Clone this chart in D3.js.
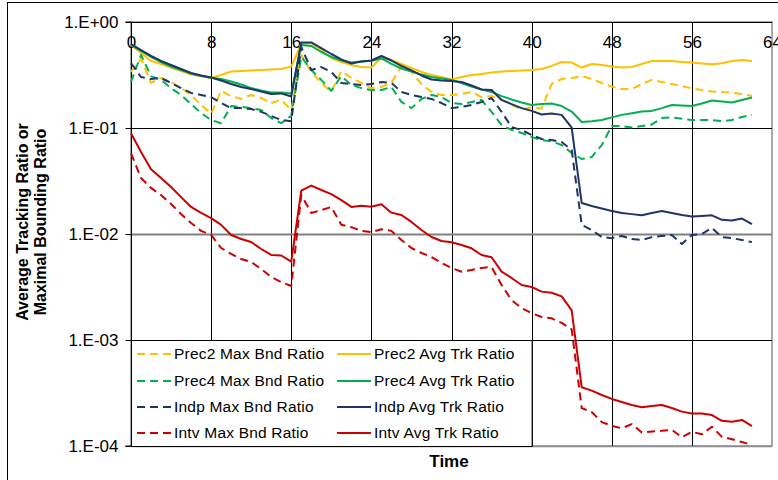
<!DOCTYPE html>
<html><head><meta charset="utf-8">
<script src="https://cdn.jsdelivr.net/npm/d3@7"></script>
<style>html,body{margin:0;padding:0;background:#fff;}svg{display:block;font-family:"Liberation Sans",Arial,sans-serif;}</style>
</head><body>
<svg id="chart" width="778" height="480"></svg>
<script>
const time = [0,1,2,3,4,5,6,7,8,9,10,11,12,13,14,15,16,17,18,19,20,21,22,23,24,25,26,27,28,29,30,31,32,33,34,35,36,37,38,39,40,41,42,43,44,45,46,47,48,49,50,51,52,53,54,55,56,57,58,59,60,61,62];
const xTicks = [0,8,16,24,32,40,48,56,64];
const yTicks = [1,0.1,0.01,0.001,0.0001];
const yTickLabels = ["1.E+00","1.E-01","1.E-02","1.E-03","1.E-04"];
const seriesNames = ["Prec2 Max Bnd Ratio","Prec2 Avg Trk Ratio","Prec4 Max Bnd Ratio","Prec4 Avg Trk Ratio","Indp Max Bnd Ratio","Indp Avg Trk Ratio","Intv Max Bnd Ratio","Intv Avg Trk Ratio"];

const prec2Max = [0.338,0.448,0.266,0.296,0.272,0.238,0.205,0.165,0.136,0.224,0.200,0.188,0.205,0.192,0.172,0.184,0.148,0.489,0.338,0.266,0.219,0.345,0.296,0.266,0.238,0.244,0.266,0.385,0.338,0.260,0.219,0.205,0.205,0.209,0.219,0.196,0.200,0.184,0.165,0.150,0.156,0.153,0.260,0.290,0.296,0.309,0.290,0.266,0.246,0.233,0.233,0.260,0.284,0.272,0.260,0.249,0.236,0.228,0.221,0.219,0.216,0.209,0.200];
const prec2Avg = [0.607,0.510,0.429,0.402,0.372,0.345,0.319,0.307,0.296,0.316,0.341,0.345,0.349,0.352,0.356,0.360,0.380,0.620,0.634,0.544,0.457,0.419,0.393,0.376,0.372,0.463,0.438,0.402,0.368,0.338,0.316,0.303,0.287,0.303,0.316,0.323,0.334,0.341,0.345,0.349,0.352,0.360,0.385,0.419,0.415,0.372,0.402,0.393,0.380,0.372,0.376,0.402,0.429,0.429,0.429,0.419,0.415,0.406,0.399,0.408,0.429,0.438,0.429];
const prec4Max = [0.272,0.489,0.309,0.284,0.238,0.205,0.168,0.138,0.119,0.111,0.161,0.158,0.154,0.148,0.124,0.111,0.130,0.468,0.352,0.284,0.224,0.309,0.255,0.238,0.228,0.228,0.244,0.176,0.154,0.188,0.205,0.196,0.172,0.168,0.176,0.184,0.142,0.107,0.0958,0.0897,0.0822,0.0771,0.0746,0.0691,0.0581,0.0510,0.0532,0.0691,0.1045,0.1045,0.101,0.1045,0.108,0.124,0.126,0.122,0.119,0.119,0.119,0.116,0.119,0.127,0.133];
const prec4Avg = [0.607,0.533,0.468,0.419,0.380,0.352,0.327,0.309,0.298,0.290,0.275,0.257,0.238,0.226,0.216,0.216,0.212,0.607,0.594,0.521,0.468,0.433,0.415,0.424,0.431,0.453,0.402,0.364,0.341,0.319,0.303,0.293,0.284,0.266,0.246,0.231,0.219,0.200,0.186,0.174,0.165,0.168,0.170,0.161,0.143,0.114,0.116,0.119,0.126,0.133,0.138,0.143,0.145,0.154,0.165,0.163,0.161,0.170,0.182,0.178,0.174,0.184,0.194];
const indpMax = [0.410,0.303,0.290,0.296,0.266,0.238,0.214,0.205,0.196,0.172,0.154,0.154,0.151,0.142,0.130,0.119,0.116,0.581,0.352,0.376,0.338,0.266,0.260,0.255,0.260,0.272,0.266,0.219,0.205,0.196,0.188,0.172,0.154,0.158,0.165,0.176,0.192,0.142,0.102,0.0957,0.0859,0.0788,0.0771,0.0738,0.0620,0.0122,0.0109,0.00935,0.00914,0.00957,0.00897,0.00878,0.00935,0.00957,0.00979,0.00805,0.00979,0.0100,0.0114,0.00935,0.00914,0.00878,0.00838];
const indpAvg = [0.620,0.544,0.478,0.429,0.393,0.360,0.330,0.313,0.300,0.281,0.260,0.244,0.233,0.221,0.209,0.212,0.198,0.641,0.641,0.568,0.499,0.443,0.406,0.424,0.433,0.478,0.433,0.385,0.349,0.313,0.287,0.281,0.278,0.272,0.252,0.231,0.228,0.184,0.168,0.154,0.145,0.134,0.137,0.133,0.101,0.0196,0.0184,0.0174,0.0165,0.0158,0.0154,0.0150,0.0158,0.0165,0.0158,0.0151,0.0146,0.0148,0.0150,0.0136,0.0134,0.0140,0.0124];
const intvMax = [0.0577,0.0338,0.0272,0.0233,0.0192,0.0154,0.0127,0.0107,0.00979,0.00738,0.00648,0.00581,0.00544,0.00468,0.00393,0.00352,0.00323,0.0233,0.0158,0.0168,0.0180,0.0122,0.0116,0.0107,0.0104,0.0111,0.0107,0.00878,0.00738,0.00662,0.00607,0.00532,0.00478,0.00441,0.00457,0.00478,0.00489,0.00330,0.00238,0.00200,0.00179,0.00165,0.00160,0.00145,0.00126,0.000228,0.000209,0.000168,0.000155,0.000147,0.000161,0.000134,0.000137,0.000139,0.000142,0.000121,0.000136,0.000129,0.000152,0.000122,0.000116,0.000109,0.000102];
const intvAvg = [0.0891,0.0594,0.0408,0.0338,0.0278,0.0223,0.0180,0.0158,0.0141,0.0122,0.00979,0.00897,0.00840,0.00722,0.00634,0.00627,0.00548,0.0256,0.0286,0.0260,0.0238,0.0209,0.0180,0.0185,0.0181,0.0191,0.0159,0.0151,0.0130,0.0109,0.00937,0.00859,0.00835,0.00787,0.00733,0.00634,0.00603,0.00441,0.00385,0.00330,0.00316,0.00286,0.00279,0.00258,0.00190,0.000358,0.000333,0.000303,0.000278,0.000260,0.000244,0.000232,0.000238,0.000244,0.000228,0.000211,0.000203,0.000203,0.000196,0.000173,0.000169,0.000176,0.000154];

const seriesValues = [prec2Max,prec2Avg,prec4Max,prec4Avg,indpMax,indpAvg,intvMax,intvAvg];
const seriesColors = ["#FFC000","#FFC000","#00B050","#00B050","#1F3467","#1F3467","#CC0000","#CC0000"];
const seriesDashed = [true,false,true,false,true,false,true,false];

const svg = d3.select("#chart");
const L = 131, R = 772, T = 22, B = 446;
const x = d3.scaleLinear().domain([0,64]).range([L,R]);
const y = d3.scaleLog().domain([0.0001,1]).range([B,T]);

// outer chart border
svg.append("rect").attr("x",7.5).attr("y",2.5).attr("width",820).attr("height",520)
  .attr("fill","#fff").attr("stroke","#000").attr("stroke-width",1);

// plot area border (gray)
svg.append("rect").attr("x",L).attr("y",T).attr("width",R-L).attr("height",B-T)
  .attr("fill","#fff").attr("stroke","#8c8c8c").attr("stroke-width",1.5);

// vertical gridlines
svg.append("g").selectAll("line").data(xTicks.filter(d=>d>0 && d<64)).join("line")
  .attr("x1",d=>Math.round(x(d))+0.5).attr("x2",d=>Math.round(x(d))+0.5)
  .attr("y1",T).attr("y2",B).attr("stroke","#000").attr("stroke-width",1);

// horizontal gridlines
svg.append("g").selectAll("line").data(yTicks).join("line")
  .attr("x1",L).attr("x2",R)
  .attr("y1",d=>Math.round(y(d))+0.5).attr("y2",d=>Math.round(y(d))+0.5)
  .attr("stroke",d=>d===0.01?"#808080":(d===0.0001?"#8c8c8c":"#000"))
  .attr("stroke-width",d=>d===0.01?2:(d===0.0001?1.5:1));

// y axis via d3
const yAxis = d3.axisLeft(y).tickValues(yTicks).tickFormat((d,i)=>yTickLabels[i]).tickSize(6).tickPadding(7);
const gy = svg.append("g").attr("transform",`translate(${L+0.5},0)`).call(yAxis);
gy.select(".domain").attr("stroke","#000").attr("d",`M-6,${T}H0V${B}H-6`);
gy.selectAll(".tick line").attr("stroke","#000");
gy.selectAll(".tick text").attr("font-size",17).attr("fill","#000")
  .attr("font-family","'Liberation Sans',Arial,sans-serif").attr("dy","0.32em");

// x tick labels at top
const xAxis = d3.axisBottom(x).tickValues(xTicks).tickFormat(d3.format("d")).tickSize(0).tickPadding(8);
const gx = svg.append("g").attr("transform",`translate(0,${T+6})`).call(xAxis);
gx.select(".domain").remove();
gx.selectAll(".tick text").attr("font-size",17).attr("fill","#000")
  .attr("font-family","'Liberation Sans',Arial,sans-serif");

// lines
const line = d3.line().x((d,i)=>x(time[i])).y(d=>y(d));
seriesValues.forEach((vals,k)=>{
  svg.append("path").datum(vals).attr("d",line)
    .attr("fill","none").attr("stroke",seriesColors[k]).attr("stroke-width",2)
    .attr("stroke-linejoin","round")
    .attr("stroke-dasharray",seriesDashed[k]?"8,5":null);
});

// legend
const legX = L, legY = y(0.001), legW = x(40)-L, legH = B - y(0.001);
svg.append("rect").attr("x",legX+0.5).attr("y",legY+0.5).attr("width",legW).attr("height",legH)
  .attr("fill","#fff").attr("stroke","#000").attr("stroke-width",1);
const rowY = [354,381,407,433];
const colX = [137,337];
seriesNames.forEach((name,k)=>{
  const col = k%2, row = Math.floor(k/2);
  const g = svg.append("g");
  g.append("line").attr("x1",colX[col]).attr("x2",colX[col]+34)
    .attr("y1",rowY[row]).attr("y2",rowY[row])
    .attr("stroke",seriesColors[k]).attr("stroke-width",2)
    .attr("stroke-dasharray",seriesDashed[k]?"8,5":null);
  g.append("text").attr("x",colX[col]+37).attr("y",rowY[row]).attr("dy","0.35em")
    .attr("font-size",15.5).attr("letter-spacing",0.2).attr("fill","#000").text(name);
});

// axis titles
svg.append("text").attr("x",449).attr("y",461).attr("dy","0.35em").attr("text-anchor","middle")
  .attr("font-size",17).attr("font-weight","bold").text("Time");
const yt = svg.append("text").attr("transform","translate(0,222) rotate(-90)")
  .attr("text-anchor","middle").attr("font-size",16).attr("font-weight","bold");
yt.append("tspan").attr("x",0).attr("y",28).text("Average Tracking Ratio or");
yt.append("tspan").attr("x",0).attr("y",46).text("Maximal Bounding Ratio");
</script>
</body></html>
